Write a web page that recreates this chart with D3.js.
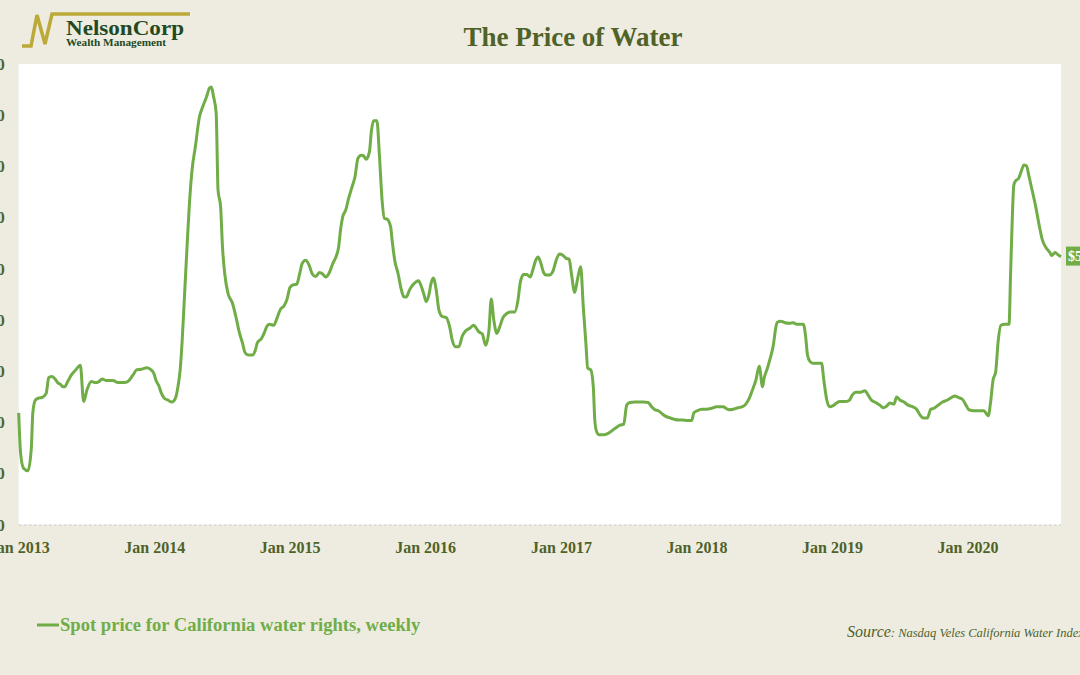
<!DOCTYPE html>
<html>
<head>
<meta charset="utf-8">
<script src="https://cdn.jsdelivr.net/npm/d3@7"></script>
<style>
  body { margin: 0; background: #EEECE1; }
  svg { display: block; font-family: "Liberation Serif", "Times New Roman", serif; }
</style>
</head>
<body>
<svg id="chart"></svg>
<script>
// weekly spot price (dates and $ values)
var weekDates = [
  "2013-01-01","2013-01-06","2013-01-14","2013-01-26","2013-02-04","2013-02-08","2013-02-15","2013-02-24","2013-03-05","2013-03-16","2013-03-23","2013-04-01","2013-04-10","2013-04-16","2013-04-23","2013-04-30","2013-05-05","2013-05-13","2013-05-23","2013-06-05","2013-06-16","2013-06-25","2013-07-04","2013-07-16","2013-07-27","2013-08-05","2013-08-14","2013-08-25","2013-09-12","2013-09-25","2013-10-13","2013-10-25","2013-11-05","2013-11-15","2013-11-27","2013-12-12","2013-12-22","2013-12-31",
  "2014-01-06","2014-01-14","2014-01-20","2014-01-29","2014-02-07","2014-02-18","2014-02-27","2014-03-06","2014-03-12","2014-03-17","2014-03-24","2014-03-31","2014-04-06","2014-04-13","2014-04-22","2014-05-03","2014-05-12","2014-05-23","2014-05-30","2014-06-04","2014-06-10","2014-06-17","2014-06-22","2014-06-29","2014-07-04","2014-07-10","2014-07-19","2014-07-31","2014-08-09","2014-08-18","2014-08-27","2014-09-02","2014-09-11","2014-09-23","2014-09-30","2014-10-06","2014-10-17","2014-10-24","2014-10-31","2014-11-07","2014-11-19","2014-11-28","2014-12-07","2014-12-17","2014-12-25",
  "2015-01-02","2015-01-11","2015-01-20","2015-01-28","2015-02-04","2015-02-13","2015-02-22","2015-03-03","2015-03-12","2015-03-22","2015-03-31","2015-04-08","2015-04-18","2015-04-27","2015-05-06","2015-05-13","2015-05-18","2015-05-24","2015-06-01","2015-06-09","2015-06-18","2015-06-26","2015-07-04","2015-07-13","2015-07-20","2015-07-26","2015-08-04","2015-08-09","2015-08-15","2015-08-24","2015-08-31","2015-09-07","2015-09-13","2015-09-21","2015-09-30","2015-10-04","2015-10-11","2015-10-20","2015-10-29","2015-11-04","2015-11-11","2015-11-20","2015-11-29","2015-12-08","2015-12-14","2015-12-22","2015-12-28",
  "2016-01-04","2016-01-11","2016-01-17","2016-01-23","2016-01-31","2016-02-07","2016-02-16","2016-02-27","2016-03-07","2016-03-14","2016-03-23","2016-04-01","2016-04-10","2016-04-19","2016-04-30","2016-05-11","2016-05-18","2016-05-25","2016-06-03","2016-06-12","2016-06-21","2016-06-27","2016-07-04","2016-07-12","2016-07-20","2016-07-28","2016-08-08","2016-08-17","2016-08-29","2016-09-07","2016-09-13","2016-09-22","2016-10-01","2016-10-10","2016-10-17","2016-10-25","2016-10-31","2016-11-07","2016-11-15","2016-11-22","2016-12-01","2016-12-10","2016-12-19","2016-12-28",
  "2017-01-05","2017-01-14","2017-01-23","2017-01-29","2017-02-07","2017-02-15","2017-02-23","2017-03-02","2017-03-09","2017-03-14","2017-03-22","2017-03-29","2017-04-02","2017-04-07","2017-04-14","2017-04-25","2017-05-08","2017-05-20","2017-05-31","2017-06-09","2017-06-19","2017-06-27","2017-07-06","2017-07-19","2017-08-11","2017-08-24","2017-09-02","2017-09-11","2017-09-20","2017-09-29","2017-10-08","2017-10-22","2017-11-04","2017-11-16","2017-11-26","2017-12-06","2017-12-19","2017-12-25",
  "2018-01-03","2018-01-15","2018-01-28","2018-02-11","2018-02-24","2018-03-14","2018-03-21","2018-03-30","2018-04-10","2018-04-23","2018-05-05","2018-05-14","2018-05-23","2018-06-01","2018-06-10","2018-06-19","2018-06-28","2018-07-02","2018-07-11","2018-07-20","2018-07-27","2018-08-03","2018-08-07","2018-08-16","2018-08-27","2018-09-08","2018-09-19","2018-09-28","2018-10-16","2018-10-22","2018-10-27","2018-11-03","2018-11-10","2018-12-04","2018-12-10","2018-12-18","2018-12-25",
  "2019-01-04","2019-01-13","2019-01-22","2019-02-05","2019-02-16","2019-02-25","2019-03-06","2019-03-17","2019-03-31","2019-04-08","2019-04-17","2019-04-29","2019-05-10","2019-05-19","2019-05-28","2019-06-06","2019-06-17","2019-06-24","2019-07-03","2019-07-14","2019-07-25","2019-08-06","2019-08-17","2019-08-26","2019-09-04","2019-09-15","2019-09-24","2019-10-03","2019-10-14","2019-10-26","2019-11-08","2019-11-19","2019-11-28","2019-12-07","2019-12-19","2019-12-28",
  "2020-01-05","2020-01-18","2020-02-03","2020-02-14","2020-02-26","2020-03-03","2020-03-10","2020-03-17","2020-03-24","2020-03-31","2020-04-11","2020-04-22","2020-04-26","2020-04-30","2020-05-05","2020-05-10","2020-05-18","2020-05-26","2020-06-01","2020-06-08","2020-06-15","2020-06-24","2020-07-03","2020-07-12","2020-07-21","2020-08-01","2020-08-10","2020-08-15","2020-08-24","2020-09-02","2020-09-09"
];
var spotPrice = [
  219,141,111,106,150,219,244,248,249,257,288,290,284,278,275,270,270,280,293,304,312,241,264,280,278,280,285,282,282,278,278,282,293,303,304,307,304,296,
  282,271,258,247,244,240,247,270,303,355,452,550,628,693,739,797,817,838,853,855,836,804,654,621,543,491,452,433,407,377,355,338,332,332,340,356,364,374,387,392,390,404,421,428,441,
  464,469,470,491,511,517,508,490,485,493,490,484,493,510,524,543,576,602,615,638,660,680,716,722,720,714,729,768,789,789,719,634,599,597,582,556,517,491,459,446,445,459,469,475,477,465,452,
  436,449,472,482,458,420,407,405,387,361,348,348,369,379,384,390,384,377,373,351,381,441,400,374,387,404,413,416,416,439,472,489,489,484,498,517,523,513,493,488,488,495,517,529,
  527,521,519,491,454,482,504,426,355,306,303,270,205,182,176,176,179,185,191,195,197,234,239,240,240,239,231,225,223,218,213,209,206,205,205,204,204,219,
  223,226,226,228,231,231,228,225,226,229,231,236,247,264,283,310,270,286,306,329,351,387,396,398,395,394,395,392,392,368,332,319,316,316,283,244,231,
  233,238,241,241,243,254,259,259,262,254,244,239,234,229,232,238,236,250,244,240,234,231,226,215,209,209,226,228,234,240,244,249,252,249,245,234,
  225,223,223,223,213,238,283,299,361,390,392,392,485,582,664,672,677,693,703,701,680,651,621,586,556,540,532,526,532,527,524
];
var yTicks = [0, 100, 200, 300, 400, 500, 600, 700, 800, 900];
var lastLabel = "$524";

var width = 1080, height = 675;
var margin = { top: 64, right: 19, bottom: 150, left: 18.7 };
var green = "#70AD47", olive = "#4F6228";

var parse = d3.timeParse("%Y-%m-%d");
var data = weekDates.map(function(d, i) { return { date: parse(d), value: spotPrice[i] }; });

var svg = d3.select("#chart").attr("width", width).attr("height", height);

svg.append("rect").attr("width", width).attr("height", height).attr("fill", "#EEECE1");

var x = d3.scaleTime()
    .domain(d3.extent(data, function(d) { return d.date; }))
    .range([margin.left, width - margin.right]);

var y = d3.scaleLinear()
    .domain([0, 900])
    .range([height - margin.bottom, margin.top]);

// plot area
svg.append("rect")
    .attr("x", margin.left)
    .attr("y", margin.top)
    .attr("width", width - margin.right - margin.left)
    .attr("height", height - margin.bottom - margin.top)
    .attr("fill", "#ffffff");

svg.append("line")
    .attr("x1", margin.left).attr("x2", width - margin.right)
    .attr("y1", y(0)).attr("y2", y(0))
    .attr("stroke", "#c8c8c8").attr("stroke-dasharray", "3,2");

// axes (the labels run off the left edge, as in the original picture)
var yAxis = svg.append("g")
    .attr("transform", "translate(" + margin.left + ",0)")
    .call(d3.axisLeft(y).tickValues(yTicks).tickSize(0).tickPadding(14)
        .tickFormat(function(d) { return "$" + d; }));
yAxis.select(".domain").remove();
yAxis.selectAll("text")
    .attr("font-family", "Liberation Serif, serif")
    .attr("font-size", 16).attr("font-weight", "bold").attr("fill", olive);

var xAxis = svg.append("g")
    .attr("transform", "translate(0," + y(0) + ")")
    .call(d3.axisBottom(x).ticks(d3.timeYear.every(1)).tickSize(0).tickPadding(16.5)
        .tickFormat(d3.timeFormat("Jan %Y")));
xAxis.select(".domain").remove();
xAxis.selectAll("text")
    .attr("font-family", "Liberation Serif, serif")
    .attr("font-size", 16).attr("font-weight", "bold").attr("fill", olive);

// the line
var line = d3.line()
    .x(function(d) { return x(d.date); })
    .y(function(d) { return y(d.value); })
    .curve(d3.curveMonotoneX);

svg.append("path")
    .datum(data)
    .attr("d", line)
    .attr("fill", "none")
    .attr("stroke", green)
    .attr("stroke-width", 3)
    .attr("stroke-linejoin", "round");

// last value tag
var last = data[data.length - 1];
svg.append("rect")
    .attr("x", x(last.date) + 5).attr("y", y(last.value) - 10)
    .attr("width", 40).attr("height", 19).attr("fill", green);
svg.append("text")
    .attr("x", x(last.date) + 7).attr("y", y(last.value) + 4.5)
    .attr("font-size", 14).attr("font-weight", "bold").attr("fill", "#ffffff")
    .text(lastLabel);

// title
svg.append("text")
    .attr("x", 573).attr("y", 46)
    .attr("text-anchor", "middle")
    .attr("font-size", 27).attr("font-weight", "bold").attr("fill", olive)
    .text("The Price of Water");

// logo
svg.append("path")
    .attr("d", "M22,46 L31,46 L37,15 L45,44 L52,14 L190,14")
    .attr("fill", "none").attr("stroke", "#BBA939").attr("stroke-width", 3.5)
    .attr("stroke-linejoin", "miter");
svg.append("text")
    .attr("x", 66).attr("y", 35)
    .attr("font-size", 20).attr("font-weight", "bold").attr("fill", "#1F4A22")
    .attr("textLength", 118).attr("lengthAdjust", "spacingAndGlyphs")
    .text("NelsonCorp");
svg.append("text")
    .attr("x", 66).attr("y", 46)
    .attr("font-size", 10.5).attr("font-weight", "bold").attr("fill", "#1F4A22")
    .attr("textLength", 100).attr("lengthAdjust", "spacingAndGlyphs")
    .text("Wealth Management");

// legend
svg.append("line")
    .attr("x1", 37).attr("x2", 59).attr("y1", 625).attr("y2", 625)
    .attr("stroke", green).attr("stroke-width", 3);
svg.append("text")
    .attr("x", 60).attr("y", 631)
    .attr("font-size", 18.6).attr("font-weight", "bold").attr("fill", green)
    .text("Spot price for California water rights, weekly");

// source
var src = svg.append("text")
    .attr("x", 847).attr("y", 637)
    .attr("font-style", "italic").attr("fill", olive);
src.append("tspan").attr("font-size", 16).text("Source");
src.append("tspan").attr("font-size", 12.5).text(": Nasdaq Veles California Water Index");
</script>
</body>
</html>
